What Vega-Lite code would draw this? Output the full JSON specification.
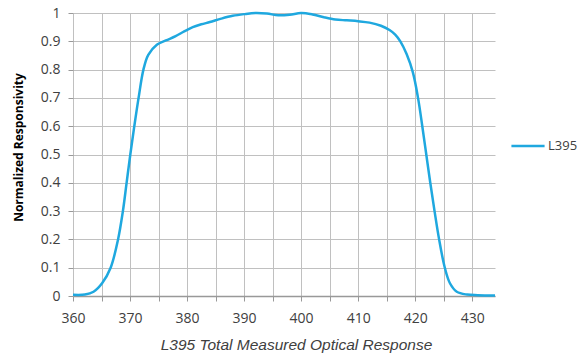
{
  "$schema": "https://vega.github.io/schema/vega-lite/v6.json",
  "width": 422,
  "height": 283,
  "autosize": {"type": "none"},
  "padding": {"left": 73, "top": 13, "right": 83, "bottom": 58},
  "background": "white",
  "config": {
    "view": {"stroke": null},
    "font": "Open Sans"
  },
  "data": {
    "values": [
      {"wl": 360, "r": 0.004, "s": "L395"},
      {"wl": 362.1, "r": 0.005, "s": "L395"},
      {"wl": 363.6, "r": 0.015, "s": "L395"},
      {"wl": 365.1, "r": 0.045, "s": "L395"},
      {"wl": 366.6, "r": 0.1, "s": "L395"},
      {"wl": 367.9, "r": 0.2, "s": "L395"},
      {"wl": 368.75, "r": 0.3, "s": "L395"},
      {"wl": 369.4, "r": 0.4, "s": "L395"},
      {"wl": 370.05, "r": 0.5, "s": "L395"},
      {"wl": 370.75, "r": 0.6, "s": "L395"},
      {"wl": 371.5, "r": 0.7, "s": "L395"},
      {"wl": 372.35, "r": 0.8, "s": "L395"},
      {"wl": 373.2, "r": 0.852, "s": "L395"},
      {"wl": 374.7, "r": 0.888, "s": "L395"},
      {"wl": 376.3, "r": 0.903, "s": "L395"},
      {"wl": 378, "r": 0.918, "s": "L395"},
      {"wl": 379.5, "r": 0.935, "s": "L395"},
      {"wl": 381, "r": 0.95, "s": "L395"},
      {"wl": 382.5, "r": 0.96, "s": "L395"},
      {"wl": 384, "r": 0.968, "s": "L395"},
      {"wl": 386, "r": 0.98, "s": "L395"},
      {"wl": 388, "r": 0.99, "s": "L395"},
      {"wl": 390, "r": 0.996, "s": "L395"},
      {"wl": 392, "r": 1.0, "s": "L395"},
      {"wl": 394, "r": 0.998, "s": "L395"},
      {"wl": 396, "r": 0.992, "s": "L395"},
      {"wl": 398, "r": 0.994, "s": "L395"},
      {"wl": 400, "r": 1.0, "s": "L395"},
      {"wl": 402, "r": 0.995, "s": "L395"},
      {"wl": 404, "r": 0.985, "s": "L395"},
      {"wl": 406, "r": 0.977, "s": "L395"},
      {"wl": 408, "r": 0.974, "s": "L395"},
      {"wl": 410, "r": 0.971, "s": "L395"},
      {"wl": 412, "r": 0.966, "s": "L395"},
      {"wl": 414, "r": 0.955, "s": "L395"},
      {"wl": 415.5, "r": 0.94, "s": "L395"},
      {"wl": 416.5, "r": 0.924, "s": "L395"},
      {"wl": 417.4, "r": 0.9, "s": "L395"},
      {"wl": 418.5, "r": 0.855, "s": "L395"},
      {"wl": 419.6, "r": 0.79, "s": "L395"},
      {"wl": 420.5, "r": 0.7, "s": "L395"},
      {"wl": 421.25, "r": 0.6, "s": "L395"},
      {"wl": 421.95, "r": 0.5, "s": "L395"},
      {"wl": 422.65, "r": 0.4, "s": "L395"},
      {"wl": 423.4, "r": 0.3, "s": "L395"},
      {"wl": 424.2, "r": 0.2, "s": "L395"},
      {"wl": 425.2, "r": 0.1, "s": "L395"},
      {"wl": 426.1, "r": 0.045, "s": "L395"},
      {"wl": 427.3, "r": 0.015, "s": "L395"},
      {"wl": 429.1, "r": 0.005, "s": "L395"},
      {"wl": 431, "r": 0.003, "s": "L395"},
      {"wl": 434, "r": 0.002, "s": "L395"}
    ]
  },
  "mark": {"type": "line", "interpolate": "catmull-rom", "strokeWidth": 2.5},
  "encoding": {
    "x": {
      "field": "wl",
      "type": "quantitative",
      "scale": {"domain": [360, 434], "nice": false, "zero": false},
      "axis": {
        "title": "L395 Total Measured Optical Response",
        "titleFont": "Liberation Sans",
        "titleFontStyle": "italic",
        "titleFontWeight": "normal",
        "titleFontSize": 15.5,
        "titleColor": "#404040",
        "titlePadding": 12,
        "titleX": 223,
        "values": [360, 365, 370, 375, 380, 385, 390, 395, 400, 405, 410, 415, 420, 425, 430],
        "labelExpr": "datum.value % 10 == 0 ? datum.label : ''",
        "labelFontSize": 14,
        "labelColor": "#404040",
        "labelPadding": 10,
        "labelFlush": false,
        "tickColor": "#999999",
        "tickSize": 5,
        "domainColor": "#999999",
        "domainWidth": 1.5,
        "gridColor": "#c0c0c0",
        "gridWidth": 1
      }
    },
    "y": {
      "field": "r",
      "type": "quantitative",
      "scale": {"domain": [0, 1], "nice": false},
      "axis": {
        "title": "Normalized Responsivity",
        "titleFont": "Open Sans",
        "titleFontWeight": "bold",
        "titleFontSize": 12,
        "titleColor": "#000000",
        "titlePadding": 15,
        "titleY": 134,
        "values": [0, 0.1, 0.2, 0.3, 0.4, 0.5, 0.6, 0.7, 0.8, 0.9, 1],
        "labelExpr": "datum.value == 0 || datum.value == 1 ? format(datum.value, 'd') : format(datum.value, '.1f')",
        "labelFontSize": 14,
        "labelColor": "#404040",
        "labelPadding": 8,
        "labelFlush": false,
        "tickColor": "#999999",
        "tickSize": 5,
        "domain": false,
        "gridColor": "#c0c0c0",
        "gridWidth": 1
      }
    },
    "color": {
      "field": "s",
      "type": "nominal",
      "scale": {"range": ["#1FA8DF"]},
      "legend": {
        "title": null,
        "orient": "none",
        "legendX": 437,
        "legendY": 115,
        "symbolType": "stroke",
        "symbolStrokeWidth": 2.5,
        "symbolSize": 1100,
        "labelFontSize": 13,
        "labelColor": "#404040",
        "labelOffset": 2
      }
    }
  }
}
